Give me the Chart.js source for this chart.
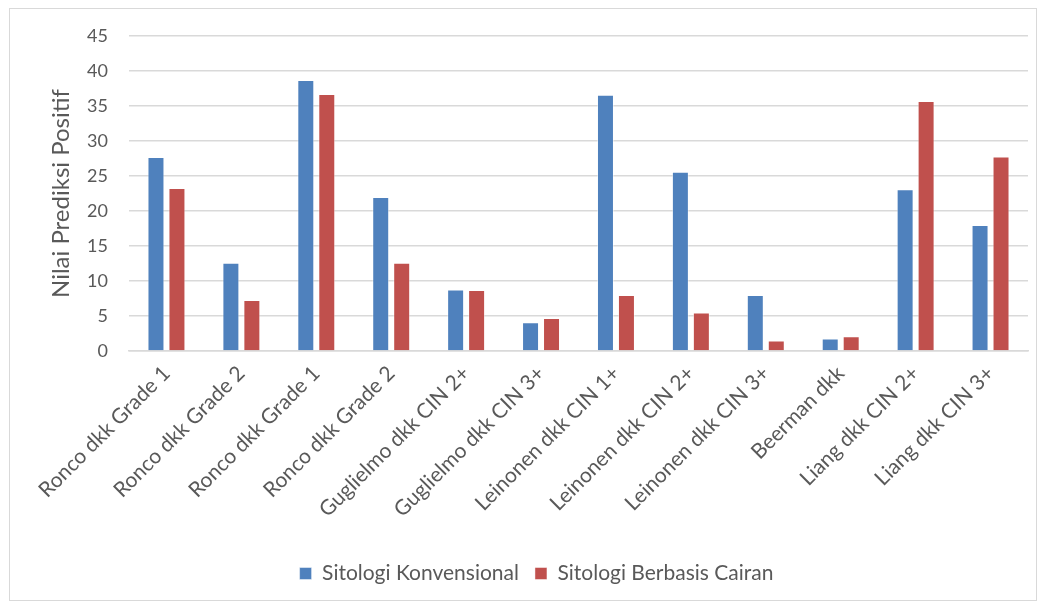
<!DOCTYPE html>
<html>
<head>
<meta charset="utf-8">
<script src="https://cdn.jsdelivr.net/npm/chart.js@4.4.0/dist/chart.umd.min.js"></script>
<style>
  html, body { margin: 0; padding: 0; background: #fff; }
  #wrap {
    position: absolute; left: 9px; top: 8px;
    width: 1026px; height: 591px;
    border: 1px solid #d9d9d9;
  }
</style>
</head>
<body>
<div id="wrap"><canvas id="grafik"></canvas></div>
<script>
// data
const kategori = [
  'Ronco dkk Grade 1', 'Ronco dkk Grade 2', 'Ronco dkk Grade 1', 'Ronco dkk Grade 2',
  'Guglielmo dkk CIN 2+', 'Guglielmo dkk CIN 3+', 'Leinonen dkk CIN 1+', 'Leinonen dkk CIN 2+',
  'Leinonen dkk CIN 3+', 'Beerman dkk', 'Liang dkk CIN 2+', 'Liang dkk CIN 3+'
];
const konvensional = [27.7, 12.6, 38.7, 22.0, 8.8, 4.1, 36.6, 25.6, 8.0, 1.8, 23.1, 18.0];
const berbasisCairan = [23.3, 7.3, 36.7, 12.6, 8.7, 4.7, 8.0, 5.5, 1.5, 2.1, 35.7, 27.8];
const yTicks = [0, 5, 10, 15, 20, 25, 30, 35, 40, 45];

const fontFam = 'Lato, "Open Sans", sans-serif';
const abu = '#595959';

const ctx = document.getElementById('grafik');

new Chart(ctx, {
  type: 'bar',
  data: {
    labels: kategori,
    datasets: [{
      label: 'Sitologi Konvensional',
      data: konvensional,
      backgroundColor: '#4F81BD',
      borderColor: 'rgba(255,255,255,0.45)',
      borderWidth: 1,
      categoryPercentage: 0.56,
      barPercentage: 0.81
    }, {
      label: 'Sitologi Berbasis Cairan',
      data: berbasisCairan,
      backgroundColor: '#C0504D',
      borderColor: 'rgba(255,255,255,0.45)',
      borderWidth: 1,
      categoryPercentage: 0.56,
      barPercentage: 0.81
    }]
  },
  options: {
    responsive: true,
    maintainAspectRatio: false,
    animation: false,
    layout: { padding: { left: 35, right: 8, top: 27, bottom: 6 } },
    scales: {
      x: {
        afterFit: (scale) => { scale.height = 196; },
        grid: { display: false, drawTicks: false },
        border: { color: '#d9d9d9', width: 1.5 },
        ticks: {
          color: abu,
          font: { family: fontFam, size: 21 },
          minRotation: 45,
          maxRotation: 45,
          padding: 10
        }
      },
      y: {
        min: 0,
        max: 45,
        afterFit: (scale) => {
          scale.width = 84;
          scale.paddingTop = 0;
          scale.paddingBottom = 0;
        },
        afterBuildTicks: (scale) => { scale.ticks = yTicks.map(v => ({ value: v })); },
        grid: { color: '#d9d9d9', lineWidth: 1.5, drawTicks: false },
        border: { display: false },
        ticks: {
          color: abu,
          font: { family: fontFam, size: 18 },
          padding: 21
        },
        title: {
          display: true,
          text: 'Nilai Prediksi Positif',
          color: abu,
          font: { family: fontFam, size: 24 },
          padding: 2
        }
      }
    },
    plugins: {
      legend: {
        position: 'bottom',
        labels: {
          color: abu,
          font: { family: fontFam, size: 21 },
          boxWidth: 12,
          boxHeight: 12,
          padding: 16
        }
      },
      tooltip: { enabled: false }
    }
  }
});
</script>
</body>
</html>
